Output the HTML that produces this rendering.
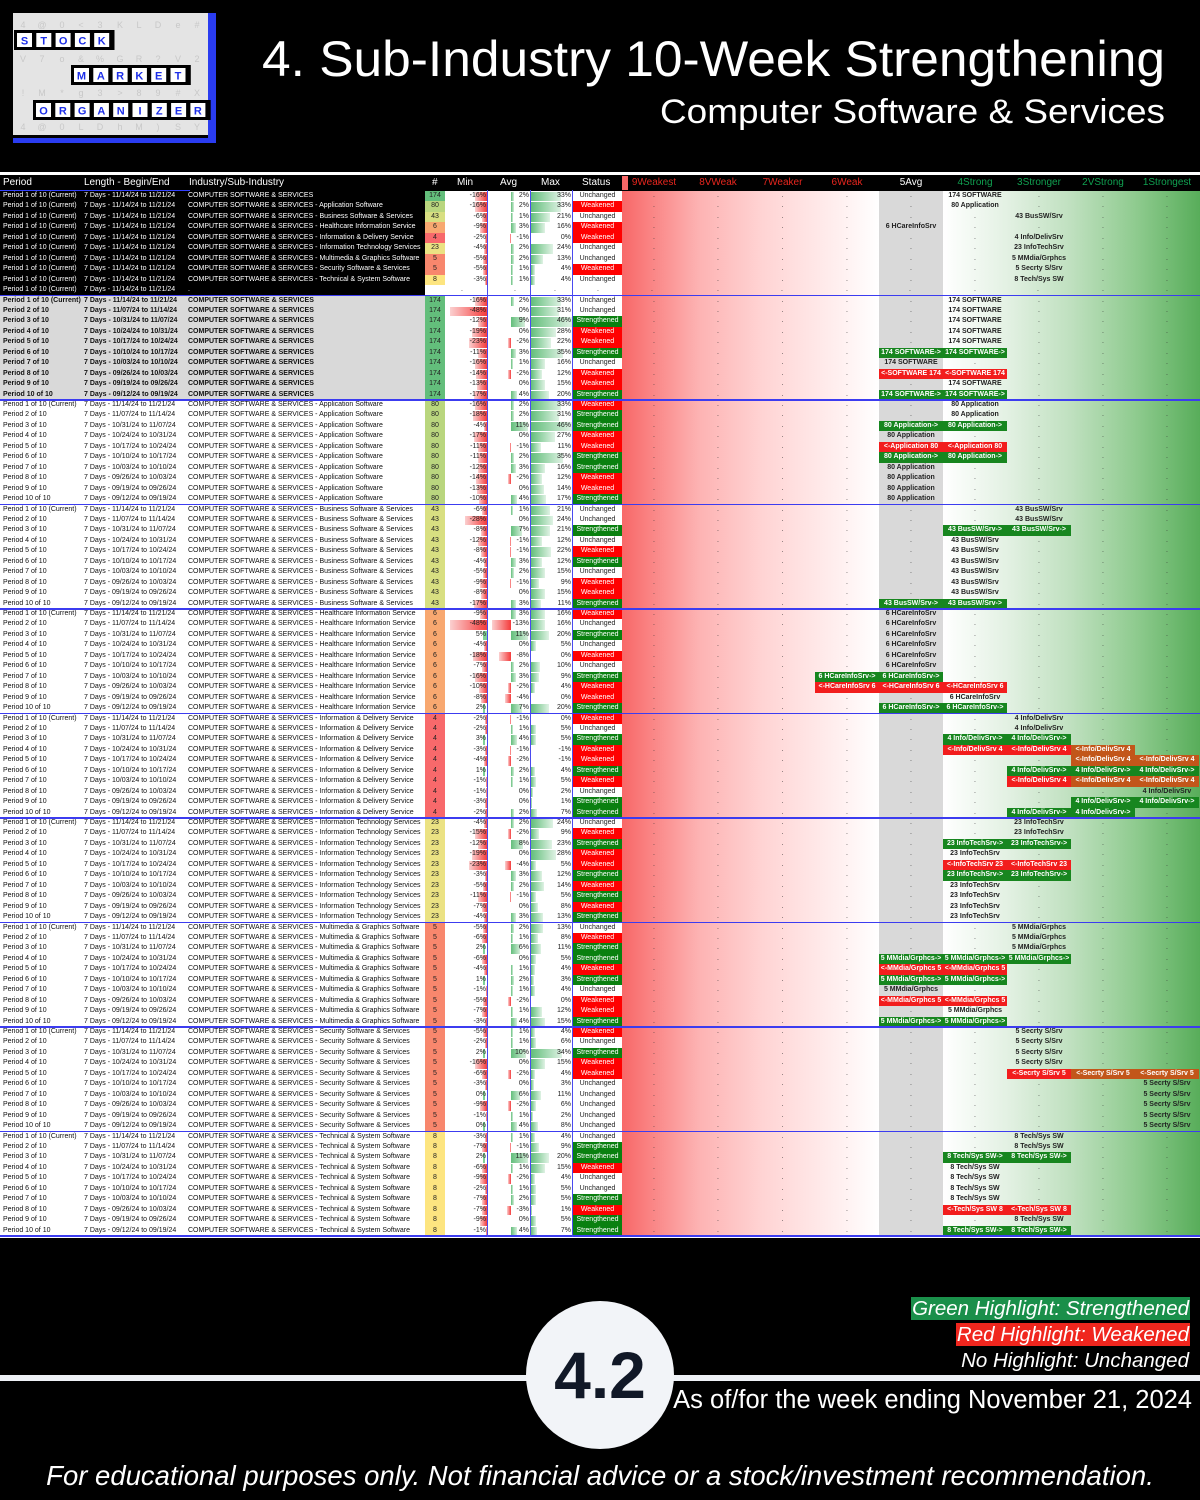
<!DOCTYPE html>
<html><head><meta charset="utf-8">
<style>
html,body{margin:0;padding:0;background:#000;}
#page{position:relative;width:1200px;height:1500px;background:#000;overflow:hidden;font-family:"Liberation Sans",sans-serif;}
.a{position:absolute;box-sizing:border-box;white-space:nowrap;overflow:hidden;}
.t{font-size:7px;line-height:10px;}
.hd{font-size:10px;line-height:14px;color:#fff;}
</style></head>
<body>
<div id="page">
  <svg class="a" style="left:0;top:0" width="1200" height="170">
    <g>
      <rect x="13" y="13" width="195" height="122" fill="#e4e4e4"/>
      <rect x="208" y="13" width="8" height="130" fill="#2a3cf0"/>
      <rect x="13" y="138" width="203" height="5" fill="#2a3cf0"/>
      <g font-family="Liberation Sans, sans-serif" font-size="9" fill="#c8c8c8" text-anchor="middle">
        <text x="23" y="28">4</text><text x="42" y="28">@</text><text x="62" y="28">0</text><text x="81" y="28">&lt;</text><text x="100" y="28">3</text><text x="120" y="28">K</text><text x="139" y="28">L</text><text x="158" y="28">D</text><text x="178" y="28">e</text><text x="197" y="28">#</text>
        <text x="23" y="62">V</text><text x="42" y="62">7</text><text x="62" y="62">o</text><text x="81" y="62">&amp;</text><text x="100" y="62">%</text><text x="120" y="62">G</text><text x="139" y="62">R</text><text x="158" y="62">?</text><text x="178" y="62">V</text><text x="197" y="62">2</text>
        <text x="23" y="96">!</text><text x="42" y="96">M</text><text x="62" y="96">*</text><text x="81" y="96">g</text><text x="100" y="96">3</text><text x="120" y="96">&gt;</text><text x="139" y="96">8</text><text x="158" y="96">9</text><text x="178" y="96">#</text><text x="197" y="96">X</text>
        <text x="23" y="130">4</text><text x="42" y="130">@</text><text x="62" y="130">0</text><text x="81" y="130">L</text><text x="100" y="130">D</text><text x="120" y="130">h</text><text x="139" y="130">M</text><text x="158" y="130">)</text><text x="178" y="130">S</text><text x="197" y="130">Y</text>
      </g>
      <g id="logo-tiles"></g>
    </g>
    <text x="1165" y="76" fill="#fff" font-family="Liberation Sans, sans-serif" font-size="50" text-anchor="end" textLength="903" lengthAdjust="spacingAndGlyphs">4. Sub-Industry 10-Week Strengthening</text>
    <text x="1165" y="123" fill="#fff" font-family="Liberation Sans, sans-serif" font-size="34" text-anchor="end" textLength="505" lengthAdjust="spacingAndGlyphs">Computer Software &amp; Services</text>
  </svg>
  <div id="table"></div>
  <div class="a" style="left:0;top:1375px;width:1200px;height:6px;background:#eef1f6"></div>
  <div class="a" style="left:526px;top:1301px;width:148px;height:148px;border-radius:50%;background:#f2f4f8;text-align:center;line-height:148px;font-weight:bold;font-size:66px;color:#111827">4.2</div>
  <div class="a" style="right:10px;top:1297px;height:23px;background:#1a8f4a;color:#fff;font-style:italic;font-size:20.5px;line-height:23px;padding:0 1px">Green Highlight: Strengthened</div>
  <div class="a" style="right:10px;top:1323px;height:23px;background:#f0261e;color:#fff;font-style:italic;font-size:20.5px;line-height:23px;padding:0 1px">Red Highlight: Weakened</div>
  <div class="a" style="right:10px;top:1349px;height:23px;color:#fff;font-style:italic;font-size:20.5px;line-height:23px;padding:0 1px">No Highlight: Unchanged</div>
  <div class="a" style="right:8px;top:1383px;height:34px;color:#fff;font-size:25.5px;line-height:34px">As of/for the week ending November 21, 2024</div>
  <div class="a" style="left:0;top:1458px;width:1200px;height:36px;color:#fff;font-style:italic;font-size:27.5px;line-height:36px;text-align:center">For educational purposes only. Not financial advice or a stock/investment recommendation.</div>
</div>
<script>
// ---- data ----
const subNames = ["", " - Application Software", " - Business Software & Services", " - Healthcare Information Service", " - Information & Delivery Service", " - Information Technology Services", " - Multimedia & Graphics Software", " - Security Software & Services", " - Technical & System Software"];
const shortNames = ["SOFTWARE","Application","BusSW/Srv","HCareInfoSrv","Info/DelivSrv","InfoTechSrv","MMdia/Grphcs","Secrty S/Srv","Tech/Sys SW"];
const counts = [174,80,43,6,4,23,5,5,8];
const periodDates = ["11/14/24 to 11/21/24","11/07/24 to 11/14/24","10/31/24 to 11/07/24","10/24/24 to 10/31/24","10/17/24 to 10/24/24","10/10/24 to 10/17/24","10/03/24 to 10/10/24","09/26/24 to 10/03/24","09/19/24 to 09/26/24","09/12/24 to 09/19/24"];
const ratingLabels = ["9Weakest","8VWeak","7Weaker","6Weak","5Avg","4Strong","3Stronger","2VStrong","1Strongest"];
const mins = [
 [-16,-48,-12,-19,-23,-11,-16,-14,-13,-17],
 [-16,-18,-4,-17,-11,-11,-12,-14,-13,-10],
 [-6,-28,-8,-12,-8,-4,-5,-9,-8,-17],
 [-9,-48,5,-4,-18,-7,-16,-10,-8,2],
 [-2,-2,3,-3,-4,1,-1,-1,-3,-2],
 [-4,-15,-12,-19,-23,-3,-5,-11,-7,-4],
 [-5,-6,2,-6,-4,1,-1,-5,-7,-3],
 [-5,-2,2,-16,-6,-3,0,-9,-1,0],
 [-3,-7,2,-6,-9,-2,-7,-7,-9,-1]];
const avgs = [
 [2,0,9,0,-2,3,1,-2,0,4],
 [2,2,11,0,-1,2,3,-2,0,4],
 [1,0,7,-1,-1,3,2,-1,0,3],
 [3,-13,11,0,-8,2,3,-2,-4,7],
 [-1,1,4,-1,-2,2,1,0,0,2],
 [2,-2,8,0,-4,3,2,-1,0,3],
 [2,1,6,0,1,2,1,-2,1,4],
 [1,1,10,0,-2,0,6,-2,1,4],
 [1,-1,11,1,-2,1,2,-3,0,4]];
const maxs = [
 [33,31,46,28,22,35,16,12,15,20],
 [33,31,46,27,11,35,16,12,14,17],
 [21,24,21,12,22,12,15,9,15,11],
 [16,16,20,5,0,10,9,4,0,20],
 [0,5,5,-1,-1,4,5,2,1,7],
 [24,9,23,28,5,12,14,5,8,13],
 [13,8,11,5,4,3,4,0,12,15],
 [4,6,34,15,4,3,11,6,2,8],
 [4,9,20,15,4,5,5,1,5,7]];
const statuses = [
 "UUSWWSUWWS","WSSWWSSWWS","UUSUWSUWWS","WUSUWUSWWS","WUSWWSWUSS","UWSWWSWSWS","UWSSWSUWWS","WUSWWUUUUU","USSWUUSWSS"];
// rating position index: 0=9Weakest ... 4=5Avg ... 8=1Strongest
const posFrom = [
 [5,5,5,5,5,4,4,5,5,4],
 [5,5,4,4,5,4,4,4,4,4],
 [6,6,5,5,5,5,5,5,5,4],
 [4,4,4,4,4,4,3,5,5,4],
 [6,6,5,7,8,6,8,8,7,6],
 [6,6,5,5,6,5,5,5,5,5],
 [6,6,6,4,5,4,4,5,5,4],
 [6,6,6,6,8,8,8,8,8,8],
 [6,6,5,5,5,5,5,6,6,5]];
const posTo = [
 [5,5,5,5,5,5,4,4,5,5],
 [5,5,5,4,4,5,4,4,4,4],
 [6,6,6,5,5,5,5,5,5,5],
 [4,4,4,4,4,4,4,3,5,5],
 [6,6,6,5,7,8,6,8,8,7],
 [6,6,6,5,5,6,5,5,5,5],
 [6,6,6,6,4,5,4,4,5,5],
 [6,6,6,6,6,8,8,8,8,8],
 [6,6,6,5,5,5,5,5,6,6]];

// ---- layout ----
const page = document.getElementById('table');
const Y0 = 191, RH = 10.45;
const colX = [622,686,750,815,879,943,1007,1071,1135,1199];
const countColors = {174:'#63be7b',80:'#b9d67e',43:'#d8df81',6:'#f8a870',4:'#f8696b',23:'#ebe283',5:'#f8876d',8:'#fde580'};
function rowY(i){return Y0 + i*RH;}
function minX(v){return 487 - Math.abs(Math.min(v,0))*0.78;}
function avgW(v){return Math.abs(v)*1.5;}
function maxW(v){return Math.max(v,0)*0.9;}
function box(x,y,w,h,style,text,name,cls){
  const d=document.createElement('div');
  d.className='a '+(cls||'');
  d.style.cssText=`left:${x}px;top:${y}px;width:${w}px;height:${h}px;`+style;
  if(text!==undefined) d.textContent=text;
  
  
  page.appendChild(d);
  return d;
}
// logo tiles
(function(){
  const g=document.getElementById('logo-tiles');
  const words=[["STOCK",14,30],["MARKET",71,65],["ORGANIZER",33,100]];
  let s='';
  words.forEach(([w,x,y])=>{
    s+=`<rect x="${x}" y="${y}" width="${w.length*19.3+4}" height="20" fill="#000"/>`;
    for(let i=0;i<w.length;i++){
      s+=`<rect x="${x+3+i*19.3}" y="${y+3}" width="15" height="14" fill="#fff"/><text x="${x+10.5+i*19.3}" y="${y+14.5}" font-family="Liberation Sans, sans-serif" font-size="11" font-weight="bold" fill="#1c2ee8" text-anchor="middle">${w[i]}</text>`;
    }
  });
  g.innerHTML=s;
})();

// backgrounds
box(0,172,1200,1066,'background:#fff','', 'table-background');
box(colX[0],190,colX[4]-colX[0],1047,'background:linear-gradient(90deg,#f86868 0%,#fdb3b3 30%,#ffd4d4 55%,#fff0f0 85%,#ffffff 100%)','', 'weak-zone-gradient');
box(colX[4],190,64,1047,'background:#d9d9d9','', 'avg-zone');
box(colX[5],190,colX[9]-colX[5]+1,1047,'background:linear-gradient(90deg,#ffffff 0%,#e3f1e3 25%,#bfe0bf 50%,#8fcb8f 75%,#58ad5a 100%)','', 'strong-zone-gradient');
// header row
box(0,175,1200,16,'background:#000','', 'header-row');
const hdrs=[["Period",3],["Length - Begin/End",84],["Industry/Sub-Industry",189],["#",432],["Min",457],["Avg",500],["Max",541],["Status",582]];
hdrs.forEach(([t,x])=>{box(x,176,110,14,'',t,'column-header','hd');});
box(0,190,190,1,'background:#3340ff','', 'header-underline');
ratingLabels.forEach((t,i)=>{
  const c=i<4?'#e8261e':(i==4?'#fff':'#10a050');
  box(colX[i],176,colX[i+1]-colX[i],14,`color:${c};text-align:center`,t,'rating-header','hd');
});
box(colX[0],176,6,14,'background:#f86868','', 'header-red-edge');

let g2from=0,g2to=0;
// row renderer
function drawRow(i,g,p,label,bold,leftBg,leftColor){
  const y=rowY(i), h=RH;
  box(0,y,425,h,`background-color:${leftBg}`,'','row-left-bg');
  const fw=bold?'font-weight:bold;':'';
  box(3,y,80,h,`color:${leftColor};${fw}`,label,'period-label','t');
  box(84,y,103,h,`color:${leftColor};${fw}`,g===null?'7 Days - 11/14/24 to 11/21/24':'7 Days - '+periodDates[p],'date-range','t');
  box(188,y,236,h,`color:${leftColor};${fw}`,g===null?'.':'COMPUTER SOFTWARE & SERVICES'+subNames[g],'industry-name','t');
  if(g===null){
    [[652],[718],[782],[847],[910],[975],[1038],[1103],[1167],[462],[515],[555],[598]].forEach(([x])=>box(x-3,y,6,h,'text-align:center;color:#333','.','empty-dot','t'));
    return;
  }
  box(425,y,20,h,`background:${countColors[counts[g]]};text-align:center;color:#222`,String(counts[g]),'count-cell','t');
  const mn=mins[g][p], av=avgs[g][p], mx=maxs[g][p];
  const mxl=minX(mn);
  if(mn<0) box(mxl,y+1,487-mxl,h-1,'background:linear-gradient(90deg,#fbd0d0,#f43b3b)','','min-bar');
  else box(483,y+1,Math.max(2,mn*0.78),h-1,'background:#7fcf95','','min-bar');
  box(445,y,41,h,'text-align:right;color:#222',mn+'%','min-value','t');
  const aw=avgW(av);
  if(av<0) box(511-aw,y+1,aw,h-1,'background:linear-gradient(90deg,#fbd0d0,#f43b3b)','','avg-bar');
  else if(av>0) box(511,y+1,aw,h-1,'background:linear-gradient(90deg,#63be7b,#d5eedb)','','avg-bar');
  box(488,y,41,h,'text-align:right;color:#222',av+'%','avg-value','t');
  const mw=maxW(mx);
  if(mw>0) box(531,y+1,mw,h-1,'background:linear-gradient(90deg,#63be7b,#dff2e4)','','max-bar');
  box(530,y,41,h,'text-align:right;color:#222',mx+'%','max-value','t');
  const st=statuses[g][p];
  const stTxt={U:'Unchanged',W:'Weakened',S:'Strengthened'}[st];
  const stBg={U:'#fff',W:'#ff0000',S:'#0a8010'}[st];
  const stC={U:'#222',W:'#fff',S:'#fff'}[st];
  box(573,y,49,h,`background:${stBg};color:${stC};text-align:center`,stTxt,'status-cell','t');
  const from=g2from, to=g2to;
  for(let c=0;c<9;c++){
    const x=colX[c], w=colX[c+1]-colX[c];
    const lo=Math.min(from,to), hi=Math.max(from,to);
    if(from===to && c===to){
      box(x,y,w,h,'text-align:center;color:#222;font-weight:bold',counts[g]+' '+shortNames[g],'rating-position','t');
    } else if(from!==to && c>=lo && c<=hi){
      if(to>from) box(x,y,w,h,'background:#17861f;color:#fff;text-align:center;font-weight:bold',counts[g]+' '+shortNames[g]+'->','rating-move-up','t');
      else box(x,y,w,h,`background:${c>=7?'#c2561a':'#f21d1d'};color:#fff;text-align:center;font-weight:bold`,'<-'+shortNames[g]+' '+counts[g],'rating-move-down','t');
    } else {
      box(x+w/2-3,y,6,h,'text-align:center;color:#333','.','empty-dot','t');
    }
  }
}
// summary block
for(let g=0;g<9;g++){
  g2from=posTo[g][0];
  g2to=posTo[g][0];
  drawRow(g,g,0,'Period 1 of 10 (Current)',false,'#000','#fff');
}
drawRow(9,null,0,'Period 1 of 10 (Current)',false,'#000','#fff');
// detail blocks
for(let g=0;g<9;g++){
  for(let p=0;p<10;p++){
    g2from=posFrom[g][p]; g2to=posTo[g][p];
    const lbl=p===0?'Period 1 of 10 (Current)':'Period '+(p+1)+' of 10';
    drawRow(10+g*10+p,g,p,lbl,g===0,g===0?'#d9d9d9':'#fff','#111');
  }
}
// grid lines
for(let b=0;b<=9;b++){
  box(0,rowY(b*10+10)-1,1200,1.5,'background:#3c3cf0','','block-separator');
}
[487,530,572].forEach(x=>box(x,190,1.2,1047,'background:#4a4af0','','column-divider'));
</script>
</body></html>
